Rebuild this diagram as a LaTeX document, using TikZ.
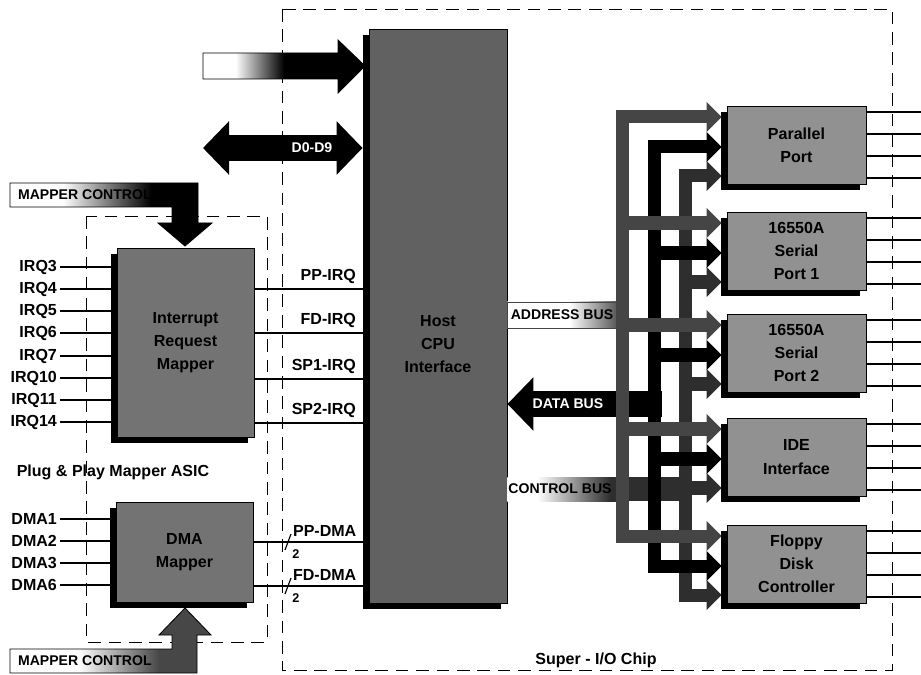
\documentclass[tikz,border=0pt]{standalone}
\usepackage{fontspec}
\setmainfont{Liberation Sans}
\usetikzlibrary{arrows.meta,shadows,calc}

% Grises del diagrama
\definecolor{grisHost}{gray}{0.38}
\definecolor{grisMap}{gray}{0.45}
\definecolor{grisPer}{gray}{0.57}
\definecolor{grisDir}{gray}{0.27}
\definecolor{grisDat}{gray}{0.0}
\definecolor{grisCtl}{gray}{0.18}
\definecolor{grisMapB}{gray}{0.28}

% Degradados blanco -> oscuro
\pgfdeclarehorizontalshading{fadeEntrada}{100bp}{color(0bp)=(white); color(35bp)=(white); color(50bp)=(black); color(100bp)=(black)}
\pgfdeclarehorizontalshading{fadeMapperA}{100bp}{color(0bp)=(white); color(38bp)=(white); color(60bp)=(black); color(100bp)=(black)}
\pgfdeclarehorizontalshading{fadeMapperB}{100bp}{color(0bp)=(white); color(42bp)=(white); color(62bp)=(grisMapB); color(100bp)=(grisMapB)}
\pgfdeclarehorizontalshading{fadeDir}{100bp}{color(0bp)=(white); color(52bp)=(white); color(75bp)=(grisDir); color(100bp)=(grisDir)}
\pgfdeclarehorizontalshading{fadeCtl}{100bp}{color(0bp)=(white); color(38bp)=(white); color(70bp)=(grisCtl); color(100bp)=(grisCtl)}

\begin{document}
\begin{tikzpicture}[x=0.025cm, y=-0.025cm,
  every node/.style={font=\fontsize{11.4}{16.5}\selectfont\bfseries, inner sep=2pt},
  bloque/.style 2 args={draw=black, line width=0.6pt, align=center,
    minimum width=#1*0.025cm, minimum height=#2*0.025cm,
    drop shadow={shadow xshift=-0.15cm, shadow yshift=-0.15cm, fill=black, opacity=1}},
  senal/.style={line width=0.8pt},
  marco/.style={line width=0.7pt, dash pattern=on 9pt off 5.5pt},
  rotulo/.style={font=\fontsize{10}{12}\selectfont\bfseries},
  bus/.style={line width=0.325cm, line join=miter},
  punta/.style={-{Triangle[width=0.725cm,length=0.375cm]}, shorten >=0.125cm},
  dospuntas/.style={{Triangle[width=0.725cm,length=0.375cm]}-{Triangle[width=0.725cm,length=0.375cm]},
    shorten >=0.125cm, shorten <=0.125cm}]

\useasboundingbox (0,0) rectangle (921,675);

% Marcos punteados
\draw[marco] (282,9) rectangle (892,670);
\draw[marco] (86,216) rectangle (267,642);
\node (sio) at (596,660) {Super - I/O Chip};
\node (asic) at (113,472) {Plug \& Play Mapper ASIC};

% Bloques
\node[bloque={138}{574}, fill=grisHost] (host) at (438,316) {};
\node[align=center] (hostTxt) at (438,344) {Host\\CPU\\Interface};
\node[bloque={137}{189}, fill=grisMap] (irqmap) at (185.5,342.5) {Interrupt\\Request\\Mapper};
\node[bloque={137}{100}, fill=grisMap] (dmamap) at (184.5,552) {DMA\\Mapper};
\node[bloque={139}{78}, fill=grisPer] (par) at (796.5,145) {Parallel\\Port};
\node[bloque={139}{78}, fill=grisPer] (sp1) at (796.5,251) {16550A\\Serial\\Port 1};
\node[bloque={139}{78}, fill=grisPer] (sp2) at (796.5,353) {16550A\\Serial\\Port 2};
\node[bloque={139}{78}, fill=grisPer] (ide) at (796.5,457) {IDE\\Interface};
\node[bloque={139}{78}, fill=grisPer] (flop) at (796.5,564) {Floppy\\Disk\\Controller};

% Entradas IRQ y DMA
\foreach \n/\y in {3/267,4/289,5/311,6/333,7/356,10/378,11/400,14/422} {
  \node[anchor=east] (irq\n) at (60,\y) {IRQ\n};
  \draw[senal] (irq\n.east) -- (irq\n.east -| irqmap.west);
}
\foreach \n/\y in {1/519,2/541,3/563,6/585} {
  \node[anchor=east] (dma\n) at (60,\y) {DMA\n};
  \draw[senal] (dma\n.east) -- (dma\n.east -| dmamap.west);
}

% Salidas hacia el host
\draw[senal] (irqmap.east |- 0,289) -- (host.west |- 0,289);
\draw[senal] (irqmap.east |- 0,333) -- (host.west |- 0,333);
\draw[senal] (irqmap.east |- 0,379) -- (host.west |- 0,379);
\draw[senal] (irqmap.east |- 0,423) -- (host.west |- 0,423);
\node[anchor=south east] (ppIrq) at (359,287) {PP-IRQ};
\node[anchor=south east] (fdIrq) at (359,331) {FD-IRQ};
\node[anchor=south east] (sp1Irq) at (359,377) {SP1-IRQ};
\node[anchor=south east] (sp2Irq) at (359,421) {SP2-IRQ};

\draw[senal] (dmamap.east |- 0,542) -- (host.west |- 0,542);
\draw[senal] (dmamap.east |- 0,586) -- (host.west |- 0,586);
\draw[senal] (285,550) -- (291,534);
\draw[senal] (285,594) -- (291,578);
\node[font=\fontsize{9}{10}\selectfont\bfseries, inner sep=0pt] (ppDos) at (296,554) {2};
\node[font=\fontsize{9}{10}\selectfont\bfseries, inner sep=0pt] (fdDos) at (296,598) {2};
\node[anchor=south west] (ppDma) at (290,540) {PP-DMA};
\node[anchor=south west] (fdDma) at (290,584) {FD-DMA};

% Mapper control (arriba y abajo)
\shadedraw[shading=fadeMapperA, line width=0.6pt] (10,183) -- (198,183) -- (198,223) -- (212,223)
  -- (185,246) -- (158,223) -- (172,223) -- (172,207) -- (10,207) -- cycle;
\node[rotulo, anchor=west] (mcSup) at (15,195) {MAPPER CONTROL};
\shadedraw[shading=fadeMapperB, line width=0.6pt] (10,673) -- (197,673) -- (197,635) -- (211,635)
  -- (185,608) -- (159,635) -- (172,635) -- (172,649) -- (10,649) -- cycle;
\node[rotulo, anchor=west] (mcInf) at (15,661) {MAPPER CONTROL};

% Entradas al host
\shadedraw[shading=fadeEntrada, line width=0.6pt] (203,53) -- (338,53) -- (338,40) -- (365,66)
  -- (338,93) -- (338,79) -- (203,79) -- cycle;
\coordinate (dIzq) at (203,148);
\draw[line width=0.65cm, {Triangle[width=1.3cm,length=0.65cm]}-{Triangle[width=1.3cm,length=0.65cm]},
  shorten >=0.15cm] (dIzq) -- (host.west |- dIzq);
\node[rotulo, text=white] (dTxt) at (312,148) {D0-D9};

% Bus de control
\shade[shading=fadeCtl] (host.east |- 0,477) rectangle (622,501);
\fill[grisCtl] (622,477) rectangle (685,501);
\draw[bus, grisCtl, dospuntas] (par.west |- 0,176) -- (685,176) -- (685,595) -- (flop.west |- 0,595);
\draw[bus, grisCtl, punta] (685,282) -- (sp1.west |- 0,282);
\draw[bus, grisCtl, punta] (685,384) -- (sp2.west |- 0,384);
\draw[bus, grisCtl, punta] (685,488) -- (ide.west |- 0,488);

% Bus de datos
\draw[bus, grisDat, dospuntas] (par.west |- 0,147) -- (654,147) -- (654,566) -- (flop.west |- 0,566);
\draw[bus, grisDat, punta] (654,253) -- (sp1.west |- 0,253);
\draw[bus, grisDat, punta] (654,355) -- (sp2.west |- 0,355);
\draw[bus, grisDat, punta] (654,459) -- (ide.west |- 0,459);
\draw[grisDat, line width=0.625cm, -{Triangle[width=1.3cm,length=0.65cm]}] (662,404) -- (host.east |- 0,404);

% Bus de direcciones
\shadedraw[shading=fadeDir, draw=grisDir, line width=0.5pt] (host.east |- 0,302) rectangle (622,328);
\draw[bus, grisDir, dospuntas] (par.west |- 0,117) -- (622,117) -- (622,536) -- (flop.west |- 0,536);
\draw[bus, grisDir, punta] (622,223) -- (sp1.west |- 0,223);
\draw[bus, grisDir, punta] (622,325) -- (sp2.west |- 0,325);
\draw[bus, grisDir, punta] (622,429) -- (ide.west |- 0,429);

\node[rotulo] (dirTxt) at (562,315) {ADDRESS BUS};
\node[rotulo, text=white] (datTxt) at (568,404) {DATA BUS};
\node[rotulo] (ctlTxt) at (560,489) {CONTROL BUS};

% Lineas de salida de los perifericos
\foreach \b in {par,sp1,sp2,ide,flop}
  \foreach \d in {-33,-11,11,33}
    \draw[senal] ($(\b.east)+(0,\d)$) -- ++(60,0);

\end{tikzpicture}
\end{document}
